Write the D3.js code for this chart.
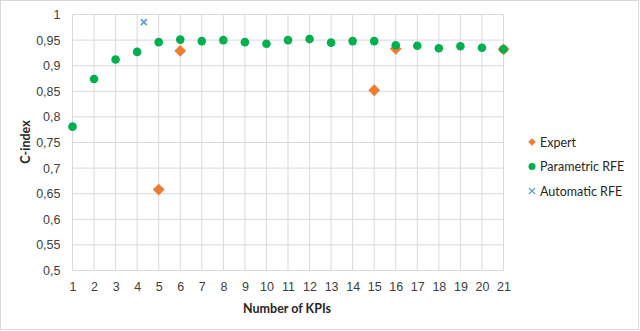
<!DOCTYPE html>
<html>
<head>
<meta charset="utf-8">
<script src="https://cdn.jsdelivr.net/npm/d3@7"></script>
<style>
  body { margin: 0; background: #fff; }
  svg { font-family: Lato, "Open Sans", sans-serif; }
  .grid line { stroke: #d9d9d9; stroke-width: 1; }
  .tick text { fill: #404040; font-size: 12.5px; }
  .title { fill: #262626; font-size: 12.5px; font-weight: bold; }
  .legend text { fill: #262626; font-size: 12.5px; }
</style>
</head>
<body>
<svg id="chart"></svg>
<script>
// number of KPIs on the x axis
var kpis = [1,2,3,4,5,6,7,8,9,10,11,12,13,14,15,16,17,18,19,20,21]
var parametricRFE = [0.781,0.874,0.912,0.927,0.946,0.951,0.948,0.950,0.946,0.943,0.950,0.952,0.945,0.948,0.948,0.940,0.939,0.934,0.938,0.935,0.932]
var expertX = [5,6,15,16,21]
var expertY = [0.658,0.929,0.852,0.933,0.932]
var autoX = [4.31]
var autoY = [0.985]
var yTicks = [0.5,0.55,0.6,0.65,0.7,0.75,0.8,0.85,0.9,0.95,1]
var seriesNames = ['Expert', 'Parametric RFE', 'Automatic RFE']
var colors = {'Expert': '#ED7D31', 'Parametric RFE': '#00B050', 'Automatic RFE': '#5B9BD5'}

var width = 640, height = 331
var svg = d3.select('#chart').attr('width', width).attr('height', height)

// outer chart border
svg.append('rect').attr('x', 0.5).attr('y', 0.5).attr('width', width - 2).attr('height', height - 2)
  .attr('fill', '#fff').attr('stroke', '#d9d9d9')

var x = d3.scaleLinear().domain([1, 21]).range([72.5, 503.5])
var y = d3.scaleLinear().domain([0.5, 1]).range([270.5, 14.5])

var fmt = d => d3.format('.2~f')(d).replace('.', ',')

// gridlines
var grid = svg.append('g').attr('class', 'grid')
grid.selectAll('.h').data(yTicks).enter().append('line')
  .attr('x1', x(1)).attr('x2', x(21)).attr('y1', d => y(d)).attr('y2', d => y(d))
grid.selectAll('.v').data(kpis).enter().append('line')
  .attr('x1', d => x(d)).attr('x2', d => x(d)).attr('y1', y(0.5)).attr('y2', y(1))

// axes
var yAxis = svg.append('g').attr('transform', 'translate(' + x(1) + ',0)')
  .call(d3.axisLeft(y).tickValues(yTicks).tickFormat(fmt).tickSize(0).tickPadding(12))
yAxis.select('.domain').remove()

var xAxis = svg.append('g').attr('transform', 'translate(0,' + y(0.5) + ')')
  .call(d3.axisBottom(x).tickValues(kpis).tickFormat(d3.format('d')).tickSize(0).tickPadding(12))
xAxis.select('.domain').remove()

svg.append('text').attr('class', 'title')
  .attr('x', 287).attr('y', 313).attr('text-anchor', 'middle').text('Number of KPIs')
svg.append('text').attr('class', 'title')
  .attr('transform', 'translate(30,142) rotate(-90)').attr('text-anchor', 'middle').text('C-index')

// diamond = square turned 45 degrees
var diamond = s => d3.symbol().type(d3.symbolSquare).size(s)
var crossPath = function (r) { return 'M' + -r + ',' + -r + 'L' + r + ',' + r + 'M' + -r + ',' + r + 'L' + r + ',' + -r }

// expert
svg.append('g').selectAll('path').data(expertX).enter().append('path')
  .attr('d', diamond(70))
  .attr('transform', (d, i) => 'translate(' + x(d) + ',' + y(expertY[i]) + ') rotate(45)')
  .attr('fill', colors['Expert'])

// parametric RFE
svg.append('g').selectAll('circle').data(kpis).enter().append('circle')
  .attr('cx', d => x(d)).attr('cy', (d, i) => y(parametricRFE[i])).attr('r', 4.3)
  .attr('fill', colors['Parametric RFE'])

// automatic RFE
svg.append('g').selectAll('path').data(autoX).enter().append('path')
  .attr('d', crossPath(3))
  .attr('transform', (d, i) => 'translate(' + x(d) + ',' + y(autoY[i]) + ')')
  .attr('fill', 'none').attr('stroke', colors['Automatic RFE']).attr('stroke-width', 1.6)

// legend
var legend = svg.append('g').attr('class', 'legend')
seriesNames.forEach(function (name, i) {
  var ly = 142 + i * 24.5
  var g = legend.append('g').attr('transform', 'translate(532,' + ly + ')')
  if (name === 'Expert') g.append('path').attr('d', diamond(30)).attr('transform', 'rotate(45)').attr('fill', colors[name])
  else if (name === 'Parametric RFE') g.append('circle').attr('r', 3.5).attr('fill', colors[name])
  else g.append('path').attr('d', crossPath(3)).attr('fill', 'none').attr('stroke', colors[name]).attr('stroke-width', 1.2)
  g.append('text').attr('x', 8).attr('y', 4.5).text(name)
})
</script>
</body>
</html>
